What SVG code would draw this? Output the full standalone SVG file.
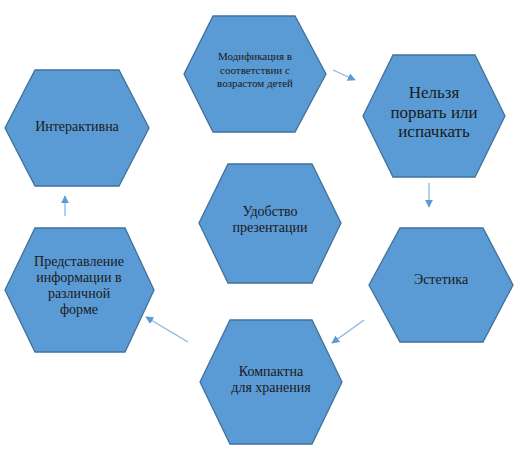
<svg xmlns="http://www.w3.org/2000/svg" width="528" height="457" viewBox="0 0 528 457">
<defs>
<style>
.hex{fill:#5b9bd5;stroke:#41719c;stroke-width:1.3}
text{font-family:'Liberation Serif','DejaVu Serif',serif;fill:#1a1a1a;text-anchor:middle}
.c{stroke:#8ab6e3;stroke-width:1.3;fill:none}
</style>
<marker id="ah" viewBox="0 0 10 10" refX="9" refY="5" markerWidth="8" markerHeight="8" markerUnits="userSpaceOnUse" orient="auto">
<path d="M0,0 L10,5 L0,10 z" fill="#5b9bd5"/>
</marker>
</defs>
<rect width="528" height="457" fill="#ffffff"/>
<g id="connectors">
<line class="c" x1="333" y1="70" x2="355" y2="80" marker-end="url(#ah)"/>
<line class="c" x1="429" y1="183" x2="429" y2="207" marker-end="url(#ah)"/>
<line class="c" x1="364" y1="320" x2="332" y2="343" marker-end="url(#ah)"/>
<line class="c" x1="188" y1="342" x2="146" y2="317" marker-end="url(#ah)"/>
<line class="c" x1="65" y1="216" x2="65" y2="196" marker-end="url(#ah)"/>
</g>
<g id="node-modification">
<polygon class="hex" points="213,16 295,16 326,74 295,132 213,132 184,74"/>
<text font-size="11"><tspan x="255" y="60">Модификация в</tspan><tspan x="255" y="74">соответствии с</tspan><tspan x="255" y="87">возрастом детей</tspan></text>
</g>
<g id="node-nelzya">
<polygon class="hex" points="393,55 475,55 505,116 475,177 393,177 363,116"/>
<text font-size="17"><tspan x="434" y="98">Нельзя</tspan><tspan x="434" y="118">порвать или</tspan><tspan x="434" y="137">испачкать</tspan></text>
</g>
<g id="node-interaktivna">
<polygon class="hex" points="35,70 119,70 149,128 119,186 35,186 5,128"/>
<text font-size="14" x="77" y="131">Интерактивна</text>
</g>
<g id="node-udobstvo">
<polygon class="hex" points="228,164 312,164 341,223 312,283 228,283 199,223"/>
<text font-size="14"><tspan x="270" y="216">Удобство</tspan><tspan x="270" y="232">презентации</tspan></text>
</g>
<g id="node-predstavlenie">
<polygon class="hex" points="35,228 125,228 154,290 125,352 35,352 5,290"/>
<text font-size="14"><tspan x="79" y="266">Представление</tspan><tspan x="79" y="282">информации в</tspan><tspan x="79" y="298">различной</tspan><tspan x="79" y="314">форме</tspan></text>
</g>
<g id="node-estetika">
<polygon class="hex" points="400,228 483,228 513,285 483,342 400,342 369,285"/>
<text font-size="14" x="441" y="284">Эстетика</text>
</g>
<g id="node-kompaktna">
<polygon class="hex" points="230,320 312,320 342,382 312,444 230,444 200,382"/>
<text font-size="14"><tspan x="271" y="376">Компактна</tspan><tspan x="271" y="392">для хранения</tspan></text>
</g>
</svg>
